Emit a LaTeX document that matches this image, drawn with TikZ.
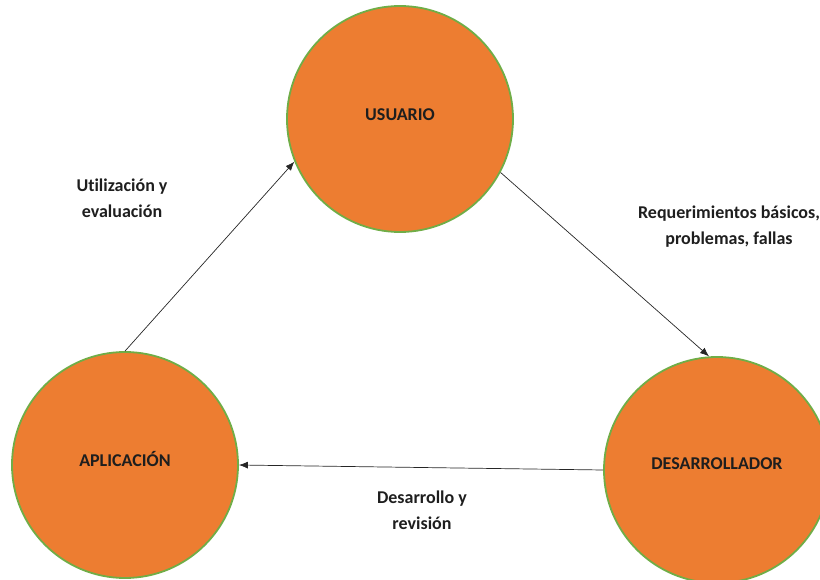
\documentclass[tikz,border=0pt]{standalone}
\usepackage{fontspec}
\setmainfont{Carlito}[Ligatures=NoCommon]
\usetikzlibrary{arrows.meta}
\definecolor{orangefill}{HTML}{ED7D31}
\definecolor{greenrim}{HTML}{70AD47}
\definecolor{ink}{HTML}{1E1E1E}
\begin{document}
\begin{tikzpicture}[x=1pt,y=-1pt,
  phase/.style={circle, fill=orangefill, draw=greenrim, line width=1.8pt,
    minimum size=226pt, inner sep=0pt},
  caption/.style={font=\bfseries\fontsize{18}{26}\selectfont, text=ink, align=center},
  flow/.style={draw=black!85, line width=0.7pt, -{Latex[length=9pt,width=7pt]}}]
  \useasboundingbox (0,0) rectangle (820,580);
  \clip (0,0) rectangle (820,580);
  % the three stages of the cycle
  \node[phase, label={[caption, yshift=4pt]center:USUARIO}] (usu) at (400,119) {};
  \node[phase, label={[caption, yshift=6pt]center:APLICACIÓN}] (apl) at (125,465) {};
  \node[phase, label={[caption, yshift=6pt]center:DESARROLLADOR}] (des) at (717,470) {};
  % connectors
  \draw[flow] (apl.90) -- (usu.202);
  \draw[flow] (usu.332) -- (des.94);
  \draw[flow] (des.180) -- (apl.0);
  % connector captions
  \node[caption] (lbluse) at (122,198) {Utilización y\\evaluación};
  \node[caption] (lblreq) at (729,227) {Requerimientos básicos,\\problemas, fallas};
  \node[caption] (lbldev) at (422,510) {Desarrollo y\\revisión};
\end{tikzpicture}
\end{document}
